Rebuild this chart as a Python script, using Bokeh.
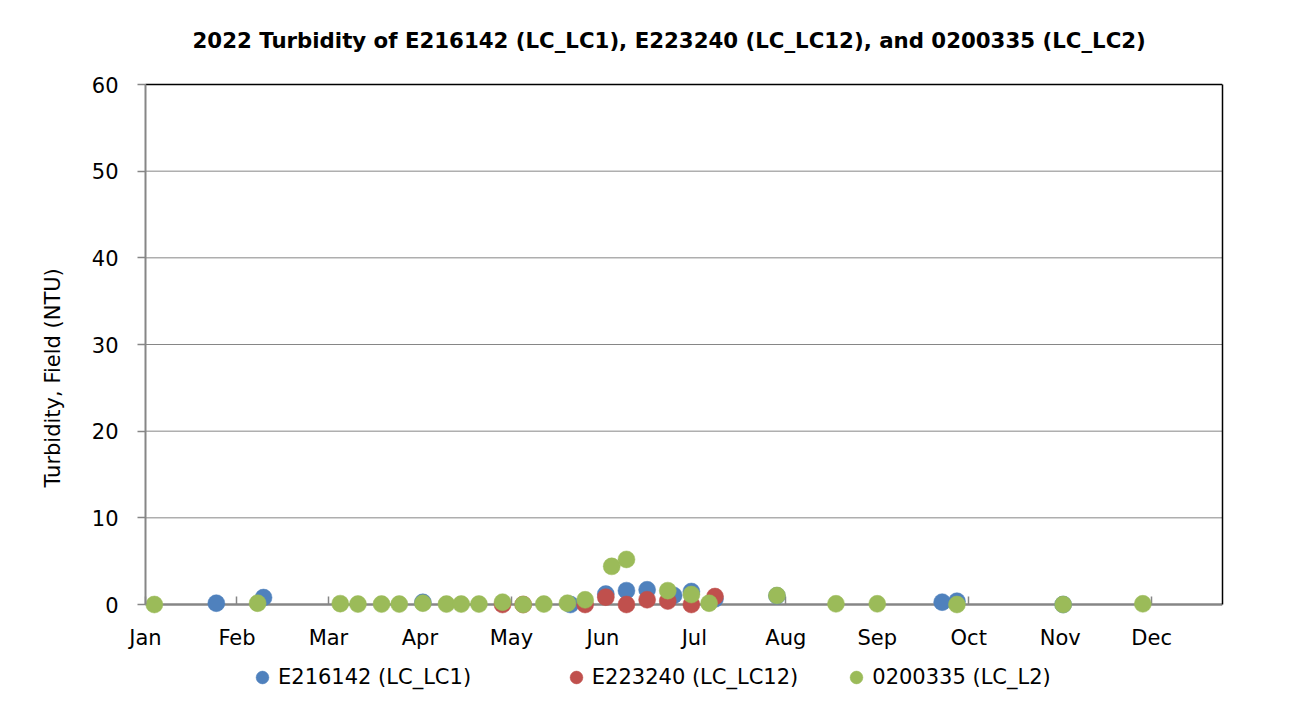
from datetime import datetime, timedelta
import pandas as pd
from bokeh.plotting import figure
from bokeh.models import (Range1d, FixedTicker, DatetimeTickFormatter, Legend,
                          LegendItem, ColumnDataSource, LinearAxis, Title)
from bokeh.embed import file_html
from bokeh.resources import INLINE

# ---------------- data ----------------
title_text = "2022 Turbidity of E216142 (LC_LC1), E223240 (LC_LC12), and 0200335 (LC_LC2)"
y_label = "Turbidity, Field (NTU)"
series_names = ["E216142 (LC_LC1)", "E223240 (LC_LC12)", "0200335 (LC_L2)"]
series_colors = ["#4F81BD", "#C0504D", "#9BBB59"]

blue_dates = ["2022-01-25", "2022-02-10", "2022-04-05", "2022-05-25", "2022-06-06",
              "2022-06-13", "2022-06-20", "2022-06-29", "2022-07-05", "2022-07-13",
              "2022-08-03", "2022-09-28", "2022-10-03", "2022-11-08"]
blue_vals = [0.15, 0.8, 0.25, 0.0, 1.2, 1.6, 1.7, 1.05, 1.5, 0.65, 1.0, 0.27, 0.38, 0.0]

red_dates = ["2022-05-02", "2022-05-09", "2022-05-30", "2022-06-06", "2022-06-13",
             "2022-06-20", "2022-06-27", "2022-07-05", "2022-07-13"]
red_vals = [0.0, 0.0, 0.0, 0.85, 0.0, 0.55, 0.4, 0.0, 0.92]

green_dates = ["2022-01-04", "2022-02-08", "2022-03-08", "2022-03-14", "2022-03-22",
               "2022-03-28", "2022-04-05", "2022-04-13", "2022-04-18", "2022-04-24",
               "2022-05-02", "2022-05-09", "2022-05-16", "2022-05-24", "2022-05-30",
               "2022-06-08", "2022-06-13", "2022-06-27", "2022-07-05", "2022-07-11",
               "2022-08-03", "2022-08-23", "2022-09-06", "2022-10-03", "2022-11-08",
               "2022-12-05"]
green_vals = [0.0, 0.15, 0.1, 0.05, 0.05, 0.05, 0.15, 0.05, 0.05, 0.05,
              0.27, 0.0, 0.05, 0.15, 0.54, 4.4, 5.2, 1.6, 1.15, 0.15,
              1.04, 0.08, 0.08, 0.0, 0.0, 0.08]

y_ticks = [0, 10, 20, 30, 40, 50, 60]
y_min, y_max = 0, 60
x_start = datetime(2022, 1, 1)
x_end = datetime(2023, 1, 1)
x_tick_step_days = 31
n_x_ticks = 12

FONT = "DejaVu Sans"
FS = "21px"
GRAY = "#868686"

# plot area 1077 x 520 px (Jan 1 - Dec 31, 0 - 60); the frame is extended
# left, above and below so tick labels, legend and markers are not clipped
area_w, area_h = 1077.0, 520.0
days_per_px = (x_end - x_start).days / area_w
units_per_px = (y_max - y_min) / area_h
x_lo = x_start - timedelta(days=140 * days_per_px)
y_lo = y_min - 101 * units_per_px
y_hi = y_max + 20 * units_per_px

p = figure(width=1294, height=705, output_backend="svg", toolbar_location=None,
           x_axis_type="datetime",
           x_range=Range1d(x_lo, x_end), y_range=Range1d(y_lo, y_hi),
           min_border_left=5, min_border_right=72, min_border_top=64,
           min_border_bottom=0)
p.background_fill_color = "white"
p.border_fill_color = "white"
p.outline_line_color = None
p.xgrid.visible = False
p.ygrid.visible = False

x_start_ms = pd.Timestamp(x_start).value / 1e6
x_end_ms = pd.Timestamp(x_end).value / 1e6

# title
p.title = Title(text=title_text, align="left", offset=187, standoff=23,
                text_font=FONT, text_font_style="bold", text_font_size="21.3px",
                text_color="black")

# horizontal grid lines (at the y ticks) and top border
grid_y = y_ticks[1:-1]
p.segment(x0=[x_start] * len(grid_y), x1=[x_end] * len(grid_y), y0=grid_y, y1=grid_y,
          line_color=GRAY, line_width=1)
p.segment(x0=[x_start], x1=[x_end], y0=[y_ticks[-1]], y1=[y_ticks[-1]],
          line_color="black", line_width=1.5)

# x axis drawn at y = 0
tick_dates = [x_start + timedelta(days=x_tick_step_days * i) for i in range(n_x_ticks)]
xa = p.xaxis[0]
xa.fixed_location = 0
xa.bounds = (x_start_ms, x_end_ms)
xa.ticker = FixedTicker(ticks=[pd.Timestamp(d).value / 1e6 for d in tick_dates])
xa.formatter = DatetimeTickFormatter(days="%b", months="%b", years="%b",
                                     hours="%b", minutes="%b", seconds="%b",
                                     milliseconds="%b", microseconds="%b",
                                     hourmin="%b", minsec="%b")
xa.axis_line_color = GRAY
xa.axis_line_width = 2.5
xa.major_tick_line_color = GRAY
xa.major_tick_line_width = 1.5
xa.major_tick_out = 0
xa.major_tick_in = 8
xa.minor_tick_line_color = None
xa.major_label_standoff = 21
xa.major_label_text_font = FONT
xa.major_label_text_font_size = FS
xa.major_label_text_color = "black"
xa.level = "underlay"

# y axis drawn at Jan 1
ya = p.yaxis[0]
ya.fixed_location = x_start_ms
ya.ticker = FixedTicker(ticks=y_ticks)
ya.bounds = (y_min, y_max)
ya.axis_line_color = GRAY
ya.axis_line_width = 2
ya.major_tick_line_color = GRAY
ya.major_tick_line_width = 1.5
ya.major_tick_in = 0
ya.major_tick_out = 8
ya.minor_tick_line_color = None
ya.major_label_standoff = 19
ya.major_label_text_font = FONT
ya.major_label_text_font_size = FS
ya.major_label_text_color = "black"
ya.axis_label = y_label + "\u00a0" * 10
ya.axis_label_text_font = FONT
ya.axis_label_text_font_size = FS
ya.axis_label_text_font_style = "normal"
ya.axis_label_text_color = "black"
ya.axis_label_standoff = 24

# right border of plot area
ra = LinearAxis(ticker=FixedTicker(ticks=[]), bounds=(y_min, y_max),
                axis_line_color="black", axis_line_width=1.5,
                major_tick_line_color=None, minor_tick_line_color=None,
                major_label_text_color=None)
p.add_layout(ra, "right")

# series (blue, red, green in drawing order)
renderers = []
for dates, vals, color in zip([blue_dates, red_dates, green_dates],
                              [blue_vals, red_vals, green_vals], series_colors):
    src = ColumnDataSource(dict(x=pd.to_datetime(dates), y=vals))
    r = p.scatter("x", "y", source=src, size=17, fill_color=color,
                  line_color=color, line_width=0.5)
    renderers.append(r)

legend_labels = list(series_names)
legend_labels[0] = legend_labels[0] + "\u00a0" * 7
legend = Legend(items=[LegendItem(label=n, renderers=[r]) for n, r in zip(legend_labels, renderers)],
                orientation="horizontal", location=(241, 12),
                border_line_color=None, background_fill_alpha=0,
                padding=0, margin=0, spacing=42,
                glyph_width=32, glyph_height=32, label_standoff=0,
                label_text_font=FONT, label_text_font_size=FS,
                label_text_color="black")
p.add_layout(legend, "center")

open("out.html", "w").write(file_html(p, INLINE))
